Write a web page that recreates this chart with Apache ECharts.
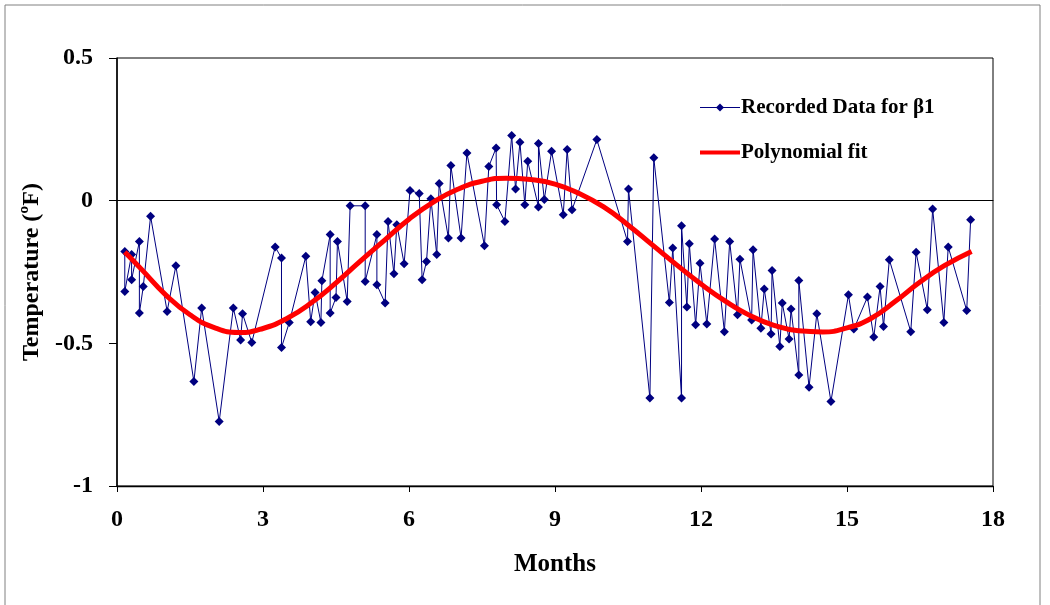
<!DOCTYPE html>
<html>
<head>
<meta charset="utf-8">
<script src="https://cdn.jsdelivr.net/npm/echarts@6/dist/echarts.min.js"></script>
<style>html,body{margin:0;padding:0;background:#fff;}#c{width:1050px;height:605px;}</style>
</head>
<body>
<div id="c"></div>
<script>
// Recorded data: months
var recMonths = [0.16,0.16,0.30,0.30,0.46,0.46,0.54,0.69,1.03,1.21,1.58,1.74,2.10,2.39,2.54,2.58,2.77,3.25,3.38,3.38,3.54,3.88,3.98,4.07,4.19,4.21,4.38,4.38,4.50,4.53,4.73,4.79,5.10,5.10,5.34,5.34,5.51,5.57,5.69,5.75,5.90,6.02,6.21,6.27,6.36,6.45,6.57,6.62,6.81,6.86,7.07,7.19,7.55,7.64,7.79,7.80,7.97,8.11,8.19,8.28,8.38,8.44,8.66,8.66,8.78,8.93,9.17,9.25,9.35,9.86,10.49,10.51,10.95,11.03,11.35,11.42,11.60,11.60,11.71,11.76,11.89,11.98,12.12,12.28,12.48,12.59,12.75,12.80,13.04,13.07,13.23,13.30,13.44,13.46,13.62,13.67,13.81,13.85,14.01,14.01,14.22,14.38,14.67,15.03,15.14,15.42,15.55,15.68,15.75,15.87,16.31,16.42,16.65,16.76,16.99,17.08,17.46,17.54];
// Recorded data: temperature (ºF)
var recValues = [-0.178,-0.318,-0.189,-0.277,-0.143,-0.394,-0.301,-0.055,-0.388,-0.228,-0.634,-0.376,-0.774,-0.376,-0.488,-0.396,-0.497,-0.162,-0.201,-0.515,-0.427,-0.195,-0.424,-0.322,-0.427,-0.281,-0.119,-0.394,-0.339,-0.143,-0.353,-0.018,-0.018,-0.283,-0.119,-0.295,-0.359,-0.073,-0.256,-0.084,-0.221,0.036,0.025,-0.277,-0.213,0.007,-0.189,0.060,-0.131,0.123,-0.131,0.167,-0.158,0.120,0.185,-0.014,-0.073,0.228,0.041,0.205,-0.014,0.138,-0.022,0.200,0.004,0.173,-0.049,0.179,-0.032,0.214,-0.143,0.041,-0.692,0.150,-0.357,-0.166,-0.692,-0.088,-0.373,-0.151,-0.435,-0.219,-0.432,-0.134,-0.459,-0.143,-0.400,-0.205,-0.418,-0.172,-0.447,-0.310,-0.467,-0.245,-0.511,-0.359,-0.485,-0.380,-0.611,-0.280,-0.654,-0.396,-0.704,-0.330,-0.450,-0.338,-0.478,-0.301,-0.441,-0.207,-0.459,-0.181,-0.382,-0.029,-0.427,-0.162,-0.385,-0.067];
// Polynomial fit
var fitMonths = [0.16,0.5,1.0,1.5,2.0,2.5,3.0,3.5,4.0,4.5,5.0,5.5,6.0,6.5,7.0,7.5,8.0,8.5,9.0,9.5,10.0,10.5,11.0,11.5,12.0,12.5,13.0,13.5,14.0,14.5,15.0,15.5,16.0,16.5,17.0,17.56];
var fitValues = [-0.180,-0.240,-0.330,-0.400,-0.445,-0.462,-0.448,-0.412,-0.357,-0.288,-0.212,-0.138,-0.065,-0.005,0.040,0.068,0.079,0.074,0.058,0.025,-0.022,-0.085,-0.155,-0.225,-0.292,-0.352,-0.402,-0.437,-0.456,-0.460,-0.446,-0.412,-0.352,-0.285,-0.228,-0.178];
var xTicks = [0,3,6,9,12,15,18];
var yTicks = [-1,-0.5,0,0.5];
var seriesNames = ['Recorded Data for \u03b21','Polynomial fit'];

var recData = recMonths.map(function(m,i){return [m, recValues[i]];});
var fitData = fitMonths.map(function(m,i){return [m, fitValues[i]];});
var font = '"Liberation Serif","Times New Roman",serif';

var chart = echarts.init(document.getElementById('c'), null, {renderer:'canvas'});
chart.setOption({
  animation:false,
  backgroundColor:'#ffffff',
  graphic:[{type:'rect', shape:{x:5,y:5,width:1035,height:620}, style:{fill:'none', stroke:'#808080', lineWidth:1}}],
  grid:{left:117, right:57, top:58, bottom:119, show:true, borderColor:'#000', borderWidth:1, backgroundColor:'transparent'},
  legend:{
    orient:'vertical', left:695, top:92, itemWidth:40, itemHeight:10, itemGap:24,
    textStyle:{fontFamily:font, fontWeight:'bold', fontSize:21, color:'#000', padding:[0,0,0,-4]},
    data:[{name:seriesNames[0], icon:'path://M0,4.5L40,4.5L40,5.5L0,5.5Z M20,1L24,5L20,9L16,5Z'}, {name:seriesNames[1], icon:'path://M0,3L40,3L40,7L0,7Z'}]
  },
  xAxis:[{
    type:'value', min:0, max:18, interval:3,
    axisLine:{show:true, lineStyle:{color:'#000', width:1}},
    axisTick:{show:false},
    splitLine:{show:false},
    axisLabel:{fontFamily:font, fontWeight:'bold', fontSize:24, color:'#000', margin:22},
    name:'Months', nameLocation:'middle', nameGap:66,
    nameTextStyle:{fontFamily:font, fontWeight:'bold', fontSize:25, color:'#000'}
  },{
    type:'value', min:0, max:18, interval:3, position:'bottom',
    axisLine:{show:true, onZero:true, lineStyle:{color:'#000', width:1.3}},
    axisTick:{show:true, inside:false, length:6, lineStyle:{color:'#000'}},
    axisLabel:{show:false}, splitLine:{show:false}
  }],
  yAxis:{
    type:'value', min:-1, max:0.5, interval:0.5,
    axisLine:{show:true, lineStyle:{color:'#000', width:1.5}},
    axisTick:{show:true, length:8, lineStyle:{color:'#000'}},
    splitLine:{show:false},
    axisLabel:{fontFamily:font, fontWeight:'bold', fontSize:24, color:'#000', margin:24,
      formatter:function(v){return String(v);}},
    name:'Temperature (\u00baF)', nameLocation:'middle', nameGap:73, nameRotate:90,
    nameTextStyle:{fontFamily:font, fontWeight:'bold', fontSize:24, color:'#000'}
  },
  series:[{
    name:seriesNames[0], type:'line', data:recData, xAxisIndex:0,
    symbol:'diamond', symbolSize:9, showSymbol:true,
    lineStyle:{color:'#000080', width:1}, itemStyle:{color:'#000080'}, z:2
  },{
    name:seriesNames[1], type:'line', data:fitData, xAxisIndex:0, smooth:true,
    symbol:'none', lineStyle:{color:'#ff0000', width:5}, itemStyle:{color:'#ff0000'}, z:3
  }]
});
</script>
</body>
</html>
